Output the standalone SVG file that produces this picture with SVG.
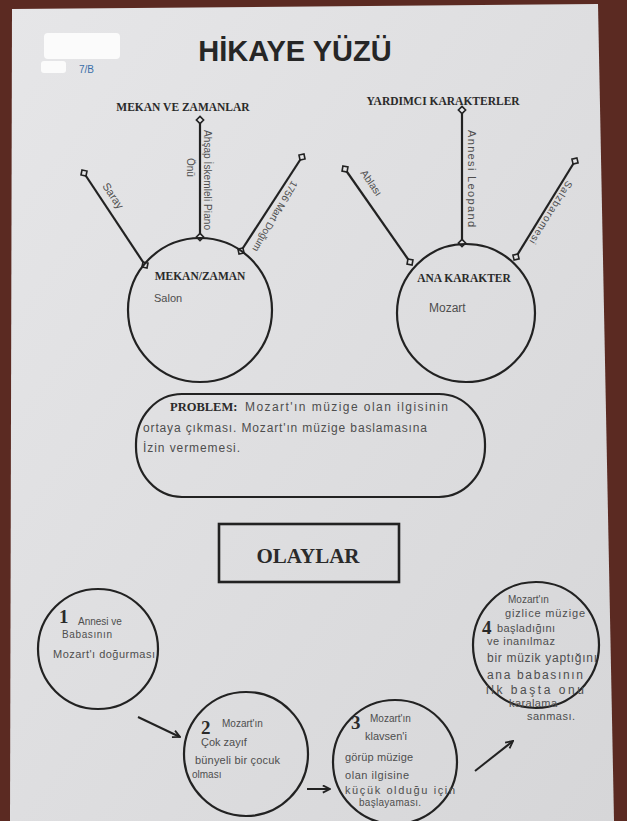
<svg xmlns="http://www.w3.org/2000/svg" width="627" height="821" viewBox="0 0 627 821" font-size="10">
<defs>
<linearGradient id="paper" x1="0" y1="0" x2="1" y2="1">
<stop offset="0" stop-color="#e6e6e8"/>
<stop offset="0.5" stop-color="#dedee0"/>
<stop offset="1" stop-color="#d6d6d8"/>
</linearGradient>
<marker id="dot" viewBox="-5 -5 10 10" markerWidth="10" markerHeight="10" markerUnits="userSpaceOnUse" refX="0" refY="0" orient="auto">
<path d="M-3.6,0 L0,-3.6 L3.6,0 L0,3.6 Z" fill="#e6e6e8" stroke="#222" stroke-width="1.6"/>
</marker>
<marker id="arr" viewBox="0 0 10 10" markerWidth="9" markerHeight="9" markerUnits="userSpaceOnUse" refX="9" refY="5" orient="auto">
<path d="M1,1 L9,5 L1,9" fill="none" stroke="#222" stroke-width="2"/>
</marker>
</defs>
<style>
.ser{font-family:"Liberation Serif","Times New Roman",serif;font-weight:bold;fill:#2a2a2a}
.hw{font-family:"Liberation Sans",Arial,sans-serif;fill:#4e4e4e}
.ln{stroke:#222;stroke-width:2.2;fill:none}
.spoke{stroke:#222;stroke-width:2.2;fill:none;marker-start:url(#dot);marker-end:url(#dot)}
.arrow{stroke:#222;stroke-width:2;fill:none;marker-end:url(#arr)}
.num{font-family:"Liberation Serif","Times New Roman",serif;font-weight:bold;font-size:19px;fill:#2a2a2a}
</style>
<rect width="627" height="821" fill="#5b2a22"/>
<polygon points="12,9 598,4 614,821 10,821" fill="url(#paper)"/>

<g id="header">
<rect x="44" y="33" width="76" height="26" rx="4" fill="#fbfbfb"/>
<rect x="41" y="61" width="25" height="12" rx="3" fill="#fbfbfb"/>
<text x="79" y="73" font-family="Liberation Sans, Arial, sans-serif" font-size="10" fill="#3b6ea8">7/B</text>
<text x="295" y="61" text-anchor="middle" font-family="Liberation Sans, Arial, sans-serif" font-weight="bold" font-size="29" fill="#262626">HİKAYE YÜZÜ</text>
</g>

<g id="connectors">
<line class="spoke" x1="84" y1="173" x2="145" y2="265"/>
<line class="spoke" x1="200" y1="120" x2="200" y2="237"/>
<line class="spoke" x1="302" y1="157" x2="241" y2="251"/>
<line class="spoke" x1="345" y1="169" x2="410" y2="262"/>
<line class="spoke" x1="462" y1="110" x2="462" y2="243"/>
<line class="spoke" x1="575" y1="161" x2="516" y2="257"/>
<line class="arrow" x1="138" y1="717" x2="180" y2="737"/>
<line class="arrow" x1="307" y1="789" x2="330" y2="789"/>
<line class="arrow" x1="475" y1="771" x2="513" y2="741"/>
</g>

<g id="mekan-zamanlar">
<text class="ser" x="183" y="111" font-size="11.5" text-anchor="middle">MEKAN VE ZAMANLAR</text>
<text class="hw" font-size="11" transform="rotate(56 102 186)" x="102" y="186">Saray</text>
<text class="hw" transform="rotate(90 204 130)" x="204" y="130" textLength="100" lengthAdjust="spacing">Ahşap İskemleli Piano</text>
<text class="hw" transform="rotate(90 187 158)" x="187" y="158">Önü</text>
<text class="hw" transform="rotate(120 292 180)" x="292" y="180" textLength="80" lengthAdjust="spacing">1756 Mart Doğum</text>
</g>

<g id="mekan-zaman">
<circle class="ln" cx="200" cy="310" r="72"/>
<text class="ser" x="200" y="280" font-size="11.5" text-anchor="middle">MEKAN/ZAMAN</text>
<text class="hw" x="154" y="302" font-size="11">Salon</text>
</g>

<g id="yardimci-karakterler">
<text class="ser" x="443" y="105" font-size="11.5" text-anchor="middle">YARDIMCI KARAKTERLER</text>
<text class="hw" transform="rotate(55 360 173)" x="360" y="173" font-size="10.5">Ablası</text>
<text class="hw" font-size="11" transform="rotate(90 468 130)" x="468" y="130" textLength="97" lengthAdjust="spacing">Annesi Leopand</text>
<text class="hw" transform="rotate(121.6 567 180)" x="567" y="180" textLength="72" lengthAdjust="spacing">Salzbaromesi</text>
</g>

<g id="ana-karakter">
<circle class="ln" cx="466" cy="313" r="69"/>
<text class="ser" x="464" y="282" font-size="11.5" text-anchor="middle">ANA KARAKTER</text>
<text class="hw" x="429" y="312" font-size="12">Mozart</text>
</g>

<g id="problem">
<rect class="ln" x="136" y="394" width="349" height="103" rx="46" ry="50"/>
<text class="ser" x="170" y="411" font-size="12.5">PROBLEM:</text>
<text class="hw" x="245" y="411" font-size="12" textLength="203" lengthAdjust="spacing">Mozart'ın müzige olan ilgisinin</text>
<text class="hw" x="143" y="432" font-size="12" textLength="284" lengthAdjust="spacing">ortaya çıkması. Mozart'ın müzige baslamasına</text>
<text class="hw" x="143" y="452" font-size="12" textLength="97" lengthAdjust="spacing">İzin vermemesi.</text>
</g>

<g id="olaylar">
<rect x="219" y="524" width="180" height="58" fill="none" stroke="#222" stroke-width="2.6"/>
<text class="ser" x="308" y="563" font-size="21" text-anchor="middle">OLAYLAR</text>
</g>

<g id="olay-1">
<circle class="ln" cx="98" cy="649" r="60"/>
<text class="num" x="59" y="623">1</text>
<text class="hw" x="78" y="625">Annesi ve</text>
<text class="hw" x="62" y="638" textLength="50" lengthAdjust="spacing">Babasının</text>
<text class="hw" x="53" y="658" font-size="11" textLength="102" lengthAdjust="spacing">Mozart'ı doğurması</text>
</g>

<g id="olay-2">
<circle class="ln" cx="246" cy="754" r="62"/>
<text class="num" x="201" y="734">2</text>
<text class="hw" x="222" y="727">Mozart'ın</text>
<text class="hw" x="201" y="746" font-size="11">Çok zayıf</text>
<text class="hw" x="195" y="764" font-size="11" textLength="85" lengthAdjust="spacing">bünyeli bir çocuk</text>
<text class="hw" x="192" y="778">olması</text>
</g>

<g id="olay-3">
<circle class="ln" cx="395" cy="762" r="62"/>
<text class="num" x="351" y="729">3</text>
<text class="hw" x="370" y="722">Mozart'ın</text>
<text class="hw" x="365" y="740" font-size="11">klavsen'i</text>
<text class="hw" x="345" y="761" font-size="11" textLength="68" lengthAdjust="spacing">görüp müzige</text>
<text class="hw" x="345" y="779" font-size="11" textLength="64" lengthAdjust="spacing">olan ilgisine</text>
<text class="hw" x="345" y="794" font-size="11" textLength="110" lengthAdjust="spacing">küçük olduğu için</text>
<text class="hw" x="359" y="806" textLength="62" lengthAdjust="spacing">başlayaması.</text>
</g>

<g id="olay-4">
<circle class="ln" cx="536" cy="645" r="63"/>
<text class="num" x="482" y="634">4</text>
<text class="hw" x="508" y="603">Mozart'ın</text>
<text class="hw" x="505" y="617" font-size="11" textLength="80" lengthAdjust="spacing">gizlice müzige</text>
<text class="hw" x="497" y="632" font-size="11" textLength="58" lengthAdjust="spacing">başladığını</text>
<text class="hw" x="487" y="645" font-size="11" textLength="68" lengthAdjust="spacing">ve inanılmaz</text>
<text class="hw" x="487" y="662" font-size="12" textLength="110" lengthAdjust="spacing">bir müzik yaptığını</text>
<text class="hw" x="487" y="679" font-size="12" textLength="96" lengthAdjust="spacing">ana babasının</text>
<text class="hw" x="486" y="694" font-size="12" textLength="98" lengthAdjust="spacing">ilk başta onu</text>
<text class="hw" x="509" y="707" font-size="11" textLength="48" lengthAdjust="spacing">karalama</text>
<text class="hw" x="527" y="720" font-size="11" textLength="48" lengthAdjust="spacing">sanması.</text>
</g>
</svg>
